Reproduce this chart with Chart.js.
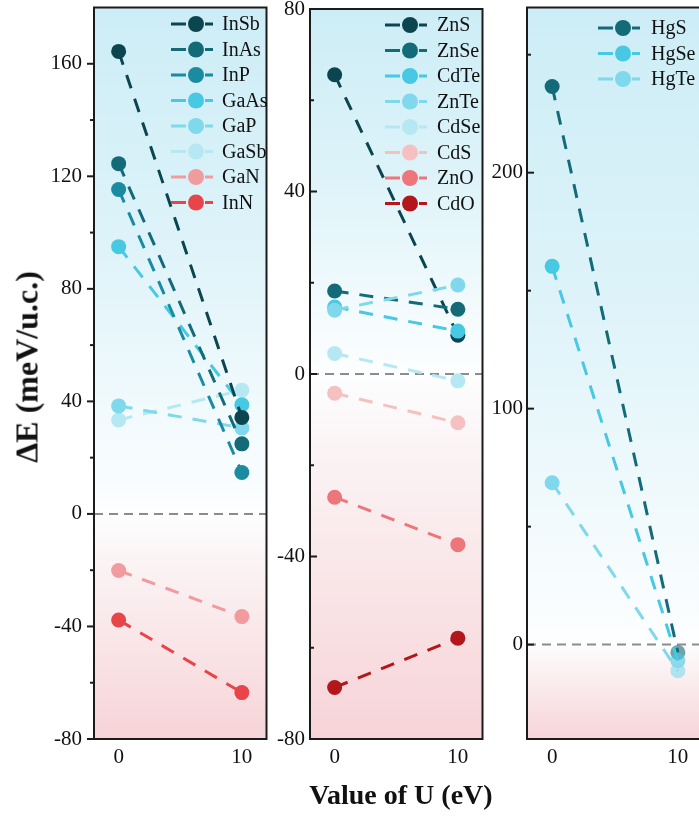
<!DOCTYPE html>
<html>
<head>
<meta charset="utf-8">
<script src="https://cdn.jsdelivr.net/npm/chart.js@4.4.1/dist/chart.umd.min.js"></script>
<style>
  html, body { margin: 0; padding: 0; background: #fff; overflow: hidden; }
  #wrap { position: relative; width: 699px; height: 816px; overflow: hidden; }
  canvas { position: absolute; top: 0; }
  .title { position: absolute; font-family: "Liberation Serif", serif; font-weight: bold;
           font-size: 28px; color: #111; white-space: nowrap; }
  #ytitle { left: 27px; top: 367px; font-size: 32px; transform: translate(-50%, -50%) rotate(-90deg); }
  #xtitle { left: 401px; top: 795px; transform: translate(-50%, -50%); }
</style>
</head>
<body>
<div id="wrap">
  <canvas id="pA" width="274" height="816" style="left:0px"></canvas>
  <canvas id="pB" width="218" height="816" style="left:272px"></canvas>
  <canvas id="pC" width="245" height="816" style="left:488px"></canvas>
  <div class="title" id="ytitle">ΔE (meV/u.c.)</div>
  <div class="title" id="xtitle">Value of U (eV)</div>
</div>
<script>
// U values on the x axis
const uValues = [0, 10];

// panel A: III-V compounds
const namesA = ["InSb", "InAs", "InP", "GaAs", "GaP", "GaSb", "GaN", "InN"];
const inSb = [164.4, 34.3];
const inAs = [124.5, 24.9];
const inP  = [115.3, 14.7];
const gaAs = [95.0, 38.8];
const gaP  = [38.4, 30.6];
const gaSb = [33.4, 44.0];
const gaN  = [-20.1, -36.5];
const inN  = [-37.7, -63.5];
const colorsA = ["#0b4650", "#136b78", "#1a8ba0", "#47c8e3", "#7fd8ec", "#b6e8f3", "#f29b9f", "#e8454a"];
const yTicksA = [-80, -60, -40, -20, 0, 20, 40, 60, 80, 100, 120, 140, 160];

// panel B: II-VI compounds
const namesB = ["ZnS", "ZnSe", "CdTe", "ZnTe", "CdSe", "CdS", "ZnO", "CdO"];
const znS  = [65.6, 8.5];
const znSe = [18.2, 14.2];
const cdTe = [14.7, 9.4];
const znTe = [14.0, 19.5];
const cdSe = [4.5, -1.5];
const cdS  = [-4.2, -10.7];
const znO  = [-27.0, -37.4];
const cdO  = [-68.7, -57.9];
const colorsB = ["#0b4650", "#136b78", "#47c8e3", "#7fd8ec", "#b6e8f3", "#f6c0c1", "#ee7579", "#b3171b"];
const yTicksB = [-80, -60, -40, -20, 0, 20, 40, 60, 80];

// panel C: Hg compounds
const namesC = ["HgS", "HgSe", "HgTe"];
const hgS  = [236.5, -3.3];
const hgSe = [160.3, -6.8];
const hgTe = [68.6, -11.1];
const colorsC = ["#136b78", "#47c8e3", "#7fd8ec"];
const yTicksC = [0, 50, 100, 150, 200, 250];

const tickFont = { family: "Liberation Serif", size: 21 };

function hexAlpha(hex, a) {
  const n = parseInt(hex.slice(1), 16);
  return "rgba(" + (n >> 16) + "," + ((n >> 8) & 255) + "," + (n & 255) + "," + a + ")";
}

// no extra room for overhanging tick labels, the layout is fixed by hand
function noPad(s) {
  s.paddingTop = 0; s.paddingBottom = 0; s.paddingLeft = 0; s.paddingRight = 0;
}

// background gradient, zero line, frame, minor ticks and legend
const panelDeco = {
  id: "panelDeco",
  beforeDraw(chart, args, opts) {
    const { ctx, chartArea: a } = chart;
    const y0 = chart.scales.y.getPixelForValue(0);
    const f = Math.min(Math.max((y0 - a.top) / (a.bottom - a.top), 0), 1);
    const g = ctx.createLinearGradient(0, a.top, 0, a.bottom);
    g.addColorStop(0, "rgb(205,237,246)");
    g.addColorStop(f * 0.45, "rgb(221,243,249)");
    g.addColorStop(f, "rgb(253,254,255)");
    g.addColorStop(Math.min(1, f + (1 - f) * 0.2), "rgb(251,244,245)");
    g.addColorStop(1, "rgb(247,212,216)");
    ctx.save();
    ctx.fillStyle = g;
    ctx.fillRect(a.left, a.top, a.right - a.left, a.bottom - a.top);
    ctx.restore();
  },
  beforeDatasetsDraw(chart) {
    const { ctx, chartArea: a } = chart;
    const y0 = chart.scales.y.getPixelForValue(0);
    ctx.save();
    ctx.strokeStyle = "#8c8c8c";
    ctx.lineWidth = 2;
    ctx.setLineDash([9, 6]);
    ctx.beginPath();
    ctx.moveTo(a.left, y0);
    ctx.lineTo(a.right, y0);
    ctx.stroke();
    ctx.restore();
  },
  afterDraw(chart, args, opts) {
    const { ctx, chartArea: a } = chart;
    const ys = chart.scales.y;
    ctx.save();
    ctx.strokeStyle = "#1b1b1b";
    ctx.lineWidth = 2;
    ctx.strokeRect(a.left, a.top, a.right - a.left, a.bottom - a.top);
    // y ticks, long ones where a label sits
    ys.ticks.forEach(t => {
      const y = ys.getPixelForValue(t.value);
      const len = t.value % opts.labelEvery === 0 ? 7 : 4;
      ctx.beginPath();
      ctx.moveTo(a.left, y);
      ctx.lineTo(a.left + opts.tickDir * len, y);
      ctx.stroke();
    });
    // legend: dashed stub, marker, name
    ctx.font = "20px 'Liberation Serif'";
    ctx.textBaseline = "middle";
    ctx.textAlign = "left";
    chart.data.datasets.forEach((ds, i) => {
      const cx = a.left + opts.legendX;
      const y = opts.legendTop + i * 25.5;
      ctx.strokeStyle = ds.borderColor;
      ctx.lineWidth = 3;
      ctx.beginPath();
      ctx.moveTo(cx - 25, y); ctx.lineTo(cx - 10, y);
      ctx.moveTo(cx + 9, y); ctx.lineTo(cx + 17, y);
      ctx.stroke();
      ctx.fillStyle = ds.borderColor;
      ctx.beginPath();
      ctx.arc(cx, y, 8, 0, Math.PI * 2);
      ctx.fill();
      ctx.fillStyle = "#111";
      ctx.fillText(ds.label, cx + opts.textDx, y + 1);
    });
    ctx.restore();
  }
};

function makePanel(id, names, values, colors, cfg) {
  const n = names.length;
  const datasets = names.map((name, i) => ({
    label: name,
    data: uValues.map((u, j) => ({ x: u, y: values[i][j] })),
    borderColor: colors[i],
    backgroundColor: colors[i],
    pointBackgroundColor: cfg.fadeRight ? [colors[i], hexAlpha(colors[i], 0.6)] : colors[i],
    borderWidth: 3,
    borderDash: [14, 11],
    pointRadius: 7.5,
    pointHoverRadius: 7.5,
    pointBorderWidth: 0,
    order: cfg.laterOnTop ? n - i : i
  }));
  return new Chart(document.getElementById(id), {
    type: "line",
    data: { datasets: datasets },
    options: {
      responsive: false,
      animation: false,
      events: [],
      layout: { padding: { top: cfg.padTop, right: cfg.padRight, left: 0, bottom: 0 } },
      scales: {
        x: {
          type: "linear", min: -2, max: 12,
          afterBuildTicks: s => { s.ticks = uValues.map(v => ({ value: v })); },
          afterFit: s => { s.height = 77; noPad(s); },
          grid: { display: false, drawTicks: false },
          border: { display: false },
          ticks: { padding: 6, font: tickFont, color: "#111", autoSkip: false, maxRotation: 0 }
        },
        y: {
          min: cfg.yMin, max: cfg.yMax,
          afterBuildTicks: s => { s.ticks = cfg.yTicks.map(v => ({ value: v })); },
          afterFit: s => { s.width = cfg.axisWidth; noPad(s); },
          grid: { display: false, drawTicks: false },
          border: { display: false },
          ticks: {
            padding: cfg.labelPad, font: tickFont, color: "#111", autoSkip: false,
            callback: v => (v % cfg.labelEvery === 0 ? String(v) : "")
          }
        }
      },
      plugins: {
        legend: { display: false },
        tooltip: { enabled: false },
        panelDeco: {
          labelEvery: cfg.labelEvery, tickDir: cfg.tickDir,
          legendX: cfg.legendX, legendTop: cfg.legendTop, textDx: cfg.textDx
        }
      }
    },
    plugins: [panelDeco]
  });
}

makePanel("pA", namesA, [inSb, inAs, inP, gaAs, gaP, gaSb, gaN, inN], colorsA, {
  yMin: -80, yMax: 180, yTicks: yTicksA, labelEvery: 40, axisWidth: 94, padTop: 7, padRight: 4,
  labelPad: 12, tickDir: -1, legendX: 102, legendTop: 24, textDx: 26, laterOnTop: false, fadeRight: false
});

makePanel("pB", namesB, [znS, znSe, cdTe, znTe, cdSe, cdS, znO, cdO], colorsB, {
  yMin: -80, yMax: 80, yTicks: yTicksB, labelEvery: 40, axisWidth: 38, padTop: 9, padRight: 4,
  labelPad: 5, tickDir: 1, legendX: 100, legendTop: 25, textDx: 27, laterOnTop: true, fadeRight: false
});

makePanel("pC", namesC, [hgS, hgSe, hgTe], colorsC, {
  yMin: -40, yMax: 270, yTicks: yTicksC, labelEvery: 100, axisWidth: 39, padTop: 7, padRight: 30,
  labelPad: 4, tickDir: 1, legendX: 96, legendTop: 28, textDx: 28, laterOnTop: true, fadeRight: true
});
</script>
</body>
</html>
